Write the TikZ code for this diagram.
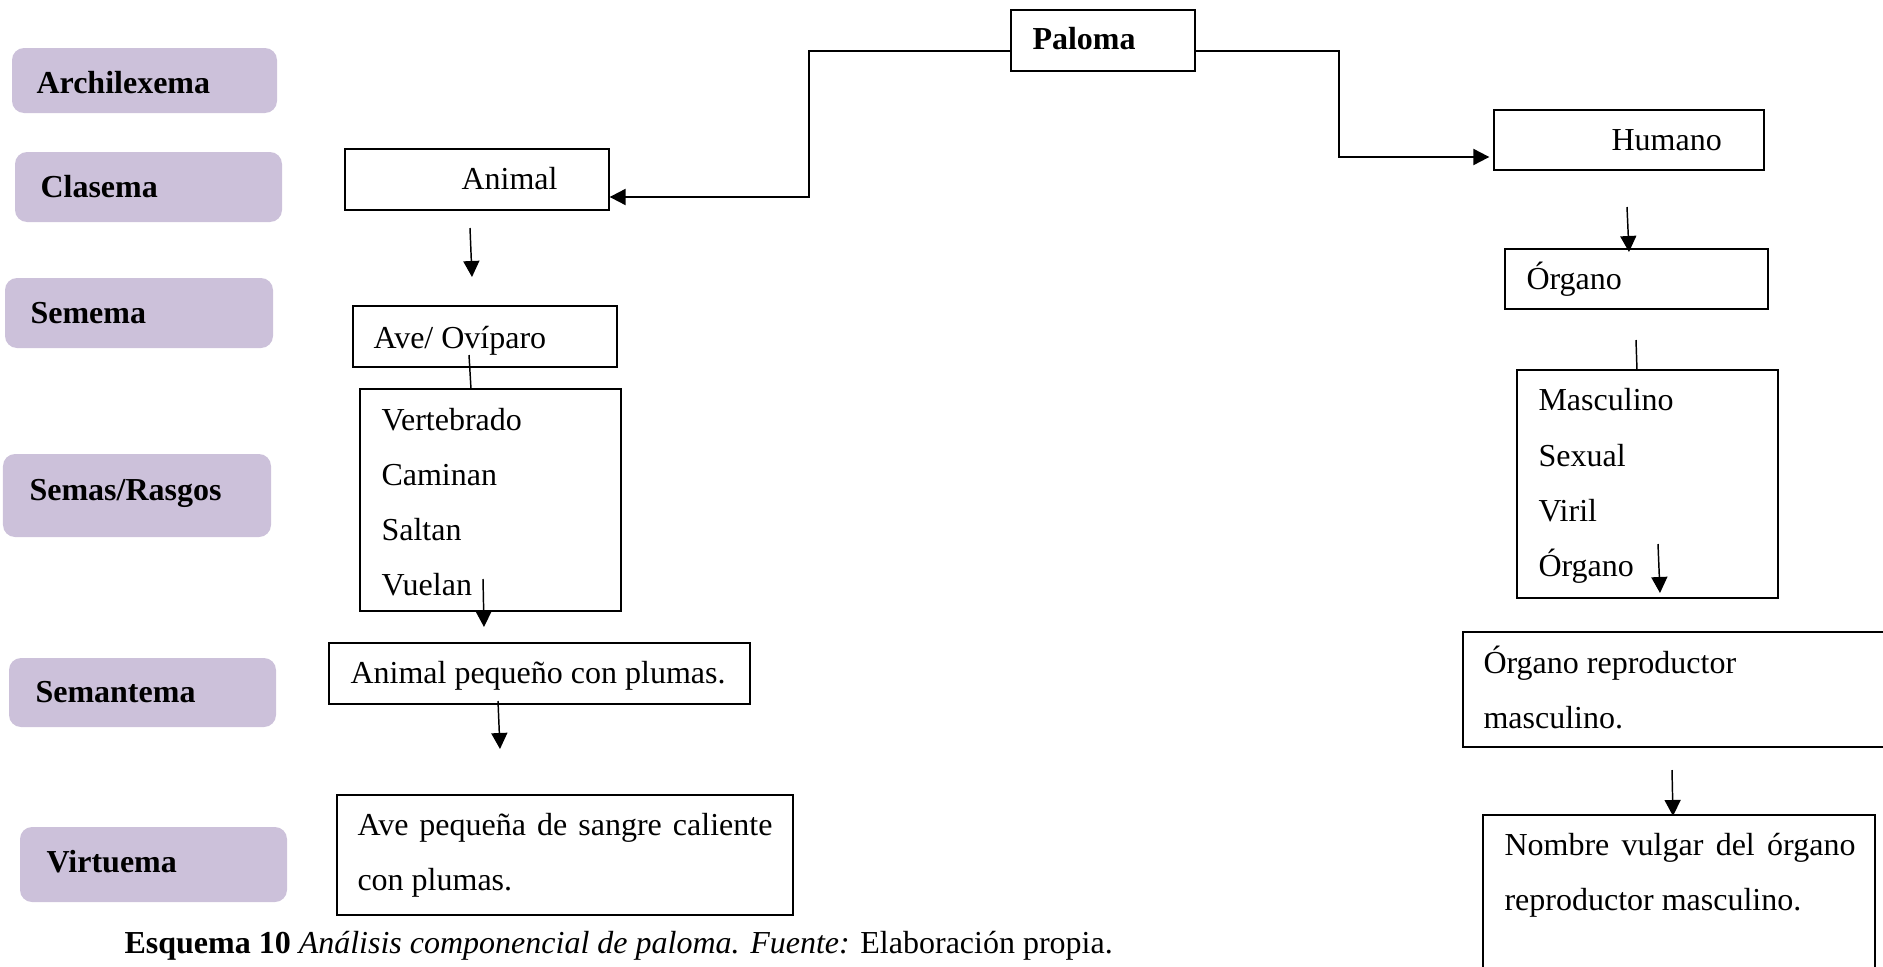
\documentclass[tikz,border=0pt]{standalone}
\usepackage{fontspec}
\setmainfont{Liberation Serif}
\usetikzlibrary{arrows.meta,fit}

\definecolor{lila}{HTML}{CCC1DA}

\begin{document}
\begin{tikzpicture}[x=0.375pt,y=-0.375pt,
  every node/.style={font=\fontsize{12pt}{14pt}\selectfont},
  level/.style={fill=lila, draw=none, rounded corners=4.5pt, inner sep=0pt},
  box/.style={draw, line width=0.5pt, inner sep=0pt},
  txt/.style={anchor=base west, inner sep=0pt},
  hdr/.style={txt, font=\fontsize{12pt}{14pt}\selectfont\bfseries},
  elbow/.style={line width=0.8pt, -{Triangle[length=6pt,width=6pt]}},
  arr/.style={line width=0.55pt, -{Triangle[length=6pt,width=6pt]}},
  plain/.style={line width=0.55pt},
]
\useasboundingbox (0,0) rectangle (1883,967);

% level labels on the left
\node[level, fit={(12,48) (277,113)}] (lvArchi) {};
\node[level, fit={(15,152) (282,222)}] (lvClas) {};
\node[level, fit={(5,278) (273,348)}] (lvSeme) {};
\node[level, fit={(3,454) (271,537)}] (lvSemas) {};
\node[level, fit={(9,658) (276,727)}] (lvSeman) {};
\node[level, fit={(20,827) (287,902)}] (lvVirt) {};

\node[hdr] (tArchi) at (36,93) {Archilexema};
\node[hdr] (tClas) at (40,197) {Clasema};
\node[hdr] (tSeme) at (30,323) {Semema};
\node[hdr] (tSemas) at (29,500) {Semas/Rasgos};
\node[hdr] (tSeman) at (35,702) {Semantema};
\node[hdr] (tVirt) at (46,872) {Virtuema};

% boxes
\node[box, fit={(1011,10) (1195,71)}] (paloma) {};
\node[box, fit={(345,149) (609,210)}] (animal) {};
\node[box, fit={(353,306) (617,367)}] (ave) {};
\node[box, fit={(360,389) (621,611)}] (vert) {};
\node[box, fit={(329,643) (750,704)}] (pequeno) {};
\node[box, fit={(337,795) (793,915)}] (sangre) {};
\node[box, fit={(1494,110) (1764,170)}] (humano) {};
\node[box, fit={(1505,249) (1768,309)}] (organo) {};
\node[box, fit={(1517,370) (1778,598)}] (masc) {};
\node[box, fit={(1463,632) (1890,747)}] (repro) {};
\node[box, fit={(1483,815) (1875,985)}] (vulgar) {};

% box texts
\node[hdr] (tPaloma) at (1032,50) {Paloma};
\node[txt] (tAnimal) at (461,189) {Animal};
\node[txt] (tAve) at (373,348) {Ave/ Ovíparo};
\node[txt] (tVert) at (381,430) {Vertebrado};
\node[txt] (tCam) at (381,485) {Caminan};
\node[txt] (tSal) at (381,540) {Saltan};
\node[txt] (tVue) at (381,595) {Vuelan};
\node[txt] (tPeq) at (350,683) {Animal pequeño con plumas.};
\node[txt] (tSan1) at (357,835) {\makebox[155.6pt][s]{Ave pequeña de sangre caliente}};
\node[txt] (tSan2) at (357,890) {con plumas.};
\node[txt] (tHum) at (1611,150) {Humano};
\node[txt] (tOrg) at (1526,289) {Órgano};
\node[txt] (tMas) at (1538,410) {Masculino};
\node[txt] (tSex) at (1538,466) {Sexual};
\node[txt] (tVir) at (1538,521) {Viril};
\node[txt] (tOrg2) at (1538,576) {Órgano};
\node[txt] (tRep1) at (1483,673) {Órgano reproductor};
\node[txt] (tRep2) at (1483,728) {masculino.};
\node[txt] (tVul1) at (1504,855) {\makebox[131.6pt][s]{Nombre vulgar del órgano}};
\node[txt] (tVul2) at (1504,910) {reproductor masculino.};

% caption
\node[txt] (caption) at (124,953) {\textbf{Esquema 10} \textit{Análisis componencial de paloma. Fuente:} Elaboración propia.};

% elbow connectors from Paloma
\coordinate (pL) at (809,51);
\coordinate (aIn) at (609,197);
\coordinate (pR) at (1339,51);
\coordinate (hIn) at (1494,157);
\draw[elbow] (paloma.west |- pL) -- (pL) |- (animal.east |- aIn);
\draw[elbow, shorten >=1.5pt] (paloma.east |- pR) -- (pR) |- (humano.west |- hIn);

% vertical connectors
\coordinate (a1s) at (470,228);
\coordinate (a1e) at (472,277);
\draw[arr] (a1s) -- (a1e);
\coordinate (l1s) at (469,355);
\coordinate (l1e) at (471,389);
\draw[plain] (l1s) -- (l1e);
\coordinate (a2s) at (483,579);
\coordinate (a2e) at (484,627);
\draw[arr] (a2s) -- (a2e);
\coordinate (a3s) at (498,701);
\coordinate (a3e) at (500,749);
\draw[arr] (a3s) -- (a3e);
\coordinate (a4s) at (1627,207);
\coordinate (a4e) at (1629,252);
\draw[arr] (a4s) -- (a4e);
\coordinate (l2s) at (1636,340);
\coordinate (l2e) at (1637,370);
\draw[plain] (l2s) -- (l2e);
\coordinate (a5s) at (1658,544);
\coordinate (a5e) at (1660,593);
\draw[arr] (a5s) -- (a5e);
\coordinate (a6s) at (1672,770);
\coordinate (a6e) at (1673,816);
\draw[arr] (a6s) -- (a6e);
\end{tikzpicture}
\end{document}
